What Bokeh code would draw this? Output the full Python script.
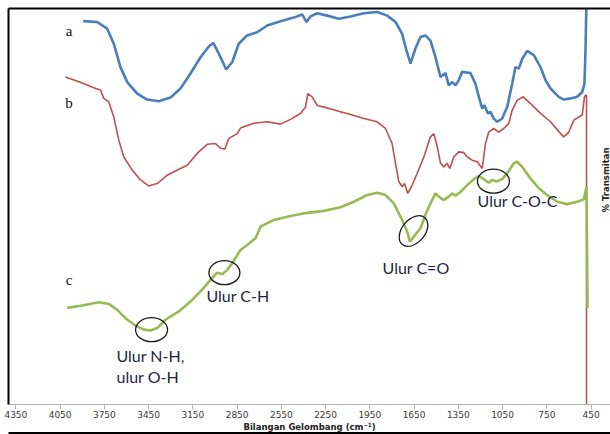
from bokeh.plotting import figure
from bokeh.models import Range1d, FixedTicker, LinearAxis
from bokeh.core.properties import value
from bokeh.embed import file_html
from bokeh.resources import INLINE

# ---- data (wavenumber cm-1, % transmittance, arbitrary offsets) ----
a_wn = [3894, 3799, 3731, 3686, 3641, 3595, 3527, 3460, 3381, 3302, 3234, 3166, 3098, 3042, 3012,
        2974, 2924, 2883, 2839, 2782, 2714, 2646, 2556, 2466, 2409, 2380, 2352, 2307, 2239, 2161,
        2081, 1991, 1900, 1832, 1776, 1731, 1702, 1674, 1641, 1607, 1573, 1539, 1505, 1471, 1437,
        1415, 1392, 1369, 1347, 1324, 1268, 1234, 1211, 1188, 1173, 1150, 1132, 1110, 1087, 1053,
        1019, 985, 963, 940, 917, 883, 838, 793, 759, 725, 691, 669, 635, 590, 544, 510, 495, 488, 481]
a_T = [96.8, 96.6, 94.9, 91.1, 85.2, 81.4, 78.5, 77.0, 76.6, 77.5, 79.8, 83.6, 87.7, 90.4, 91.3,
       88.6, 84.6, 86.5, 91.1, 93.2, 94.0, 95.7, 96.8, 97.7, 98.5, 96.6, 98.0, 98.8, 98.2, 97.4,
       98.0, 98.8, 99.1, 98.2, 96.6, 93.6, 89.4, 86.1, 89.9, 92.8, 93.2, 91.9, 87.7, 82.7, 83.7,
       80.6, 81.4, 80.6, 81.9, 84.0, 83.7, 81.0, 77.7, 74.7, 75.6, 73.5, 73.9, 72.2, 71.4, 72.2,
       75.1, 81.0, 85.2, 84.8, 87.3, 89.3, 88.2, 85.2, 81.9, 79.8, 78.5, 77.7, 77.0, 77.3, 77.7,
       78.9, 81.0, 89.4, 103]

b_wn = [4014, 3912, 3822, 3776, 3754, 3720, 3686, 3652, 3618, 3561, 3505, 3449, 3392, 3324, 3245,
        3188, 3121, 3053, 2997, 2963, 2933, 2906, 2849, 2827, 2737, 2646, 2556, 2488, 2420, 2386,
        2371, 2341, 2307, 2239, 2149, 2104, 1991, 1900, 1844, 1799, 1776, 1754, 1731, 1715, 1693,
        1663, 1629, 1584, 1539, 1516, 1493, 1471, 1449, 1426, 1408, 1381, 1347, 1313, 1290, 1256,
        1222, 1188, 1166, 1144, 1110, 1076, 1042, 1008, 985, 951, 910, 861, 793, 725, 657,
        635, 601, 567, 533, 510, 495, 488, 481, 481]
b_T = [82.7, 81.4, 80.0, 79.4, 77.3, 76.4, 72.6, 66.7, 62.5, 59.2, 56.7, 55.2, 55.8, 57.9, 59.4,
       60.4, 63.4, 65.7, 65.9, 64.7, 64.5, 67.2, 68.4, 69.8, 71.0, 71.4, 70.8, 72.0, 73.5, 75.1,
       78.5, 77.7, 75.5, 74.9, 73.9, 73.5, 72.2, 71.4, 69.7, 65.9, 60.9, 56.3, 55.0, 55.8, 53.3,
       55.4, 58.4, 62.5, 67.6, 68.4, 65.1, 60.9, 60.0, 60.9, 59.6, 62.5, 63.8, 63.6, 62.5, 61.7,
       61.3, 59.6, 65.9, 68.8, 69.7, 68.8, 69.7, 71.0, 74.3, 76.8, 77.7, 76.0, 73.5, 71.4, 68.4,
       67.6, 68.8, 71.8, 72.6, 73.1, 77.7, 78.1, 78.1, -2]

c_wn = [4002, 3900, 3788, 3720, 3663, 3607, 3539, 3483, 3437, 3392, 3336, 3245, 3155, 3087, 3030,
        2985, 2951, 2917, 2883, 2827, 2782, 2725, 2691, 2601, 2488, 2375, 2262, 2149, 2059, 1968,
        1900, 1844, 1788, 1731, 1697, 1679, 1652, 1607, 1573, 1539, 1505, 1476, 1449, 1415, 1392,
        1369, 1335, 1290, 1245, 1211, 1177, 1144, 1121, 1091, 1053, 1019, 974, 951, 917, 861,
        805, 748, 680, 612, 544, 499, 481, 474]
c_T = [24.4, 25.0, 25.8, 25.4, 23.9, 21.8, 19.9, 18.9, 18.7, 19.3, 21.4, 23.5, 26.4, 29.0, 31.5,
       33.3, 32.9, 34.0, 35.7, 39.0, 40.3, 42.0, 44.9, 46.6, 47.6, 48.4, 48.9, 49.8, 51.2, 52.9,
       53.5, 52.9, 50.8, 46.6, 43.7, 41.1, 42.4, 44.5, 47.9, 50.8, 53.3, 52.3, 51.6, 52.5, 53.3,
       52.7, 53.7, 55.4, 56.9, 57.7, 56.9, 56.0, 56.7, 56.3, 56.9, 58.4, 60.9, 61.3, 60.0, 57.1,
       54.6, 52.9, 51.2, 50.6, 51.2, 51.8, 55.0, 24.4]

tick_values = [4350, 4050, 3750, 3450, 3150, 2850, 2550, 2250, 1950, 1650, 1350, 1050, 750, 450]

series_names = ["a", "b", "c"]
series_name_wn = [3990, 3990, 3990]
series_name_T = [94.2, 76.2, 31.5]

ann_text = ["Ulur N-H,", "ulur O-H", "Ulur C-H", "Ulur C=O", "Ulur C-O-C"]
ann_wn = [3668, 3668, 3058, 1864, 1220]
ann_T = [12.3, 7.1, 27.5, 34.5, 51.6]

ell_wn = [3430, 2936, 1654, 1112]
ell_T = [18.9, 33.3, 43.8, 56.4]
ell_w = [32, 31, 35, 32]
ell_h = [24, 24, 23, 24]
ell_angle = [0, 0, 50, 0]

y_title = "% Transmitan"
y_title_wn = 349
y_title_T = 56.7

# ---- figure ----
p = figure(width=610, height=434, output_backend="svg", toolbar_location=None,
           x_range=Range1d(4400, 318.4), y_range=Range1d(0, 100),
           x_axis_location=None, y_axis_location=None,
           min_border_left=8, min_border_top=8, min_border_right=0, min_border_bottom=29)
p.outline_line_color = None
p.grid.visible = False


def frame_line(width=2):
    return LinearAxis(ticker=FixedTicker(ticks=[]), axis_line_color="black", axis_line_width=width,
                      major_tick_line_color=None, minor_tick_line_color=None)


# black picture border: left, top and bottom
p.add_layout(frame_line(), "left")
p.add_layout(frame_line(), "above")

xa = LinearAxis(ticker=FixedTicker(ticks=tick_values))
xa.axis_line_color = "#b4b4b4"
xa.major_tick_line_color = "#b4b4b4"
xa.major_tick_in = 0
xa.major_tick_out = 5
xa.minor_tick_line_color = None
xa.major_label_text_font = "DejaVu Sans"
xa.major_label_text_font_size = "9px"
xa.major_label_text_color = "#3a3a3a"
xa.major_label_standoff = 1
xa.axis_label = "Bilangan Gelombang (cm\u207b\u00b9)"
xa.axis_label_text_font = "DejaVu Sans"
xa.axis_label_text_font_size = "8.5px"
xa.axis_label_text_font_style = "bold"
xa.axis_label_text_color = "#222222"
xa.axis_label_standoff = 1
p.add_layout(xa, "below")
p.add_layout(frame_line(5), "below")

p.line(b_wn, b_T, line_color="#c0504d", line_width=1.6)
p.line(a_wn, a_T, line_color="#4a7ebb", line_width=2.6)
p.line(c_wn, c_T, line_color="#98b954", line_width=2.6)

p.text(x=series_name_wn, y=series_name_T, text=series_names, text_font=value("Liberation Serif"),
       text_font_size="15px", text_align="center", text_baseline="middle", text_color="#111111")

p.ellipse(x=ell_wn, y=ell_T, width=ell_w, height=ell_h, width_units="screen", height_units="screen",
          angle=ell_angle, angle_units="deg", fill_color=None, line_color="#1a1a1a", line_width=1.3)

p.text(x=ann_wn, y=ann_T, text=ann_text, text_font=value("Lato"), text_font_size="16px",
       text_align="left", text_baseline="middle", text_color="#1f1f3d")

p.text(x=[y_title_wn], y=[y_title_T], text=[y_title], angle=90, angle_units="deg",
       text_font=value("DejaVu Sans"), text_font_size="8.5px", text_font_style="bold",
       text_align="center", text_baseline="middle", text_color="#222222")

open("out.html", "w").write(file_html(p, INLINE))
